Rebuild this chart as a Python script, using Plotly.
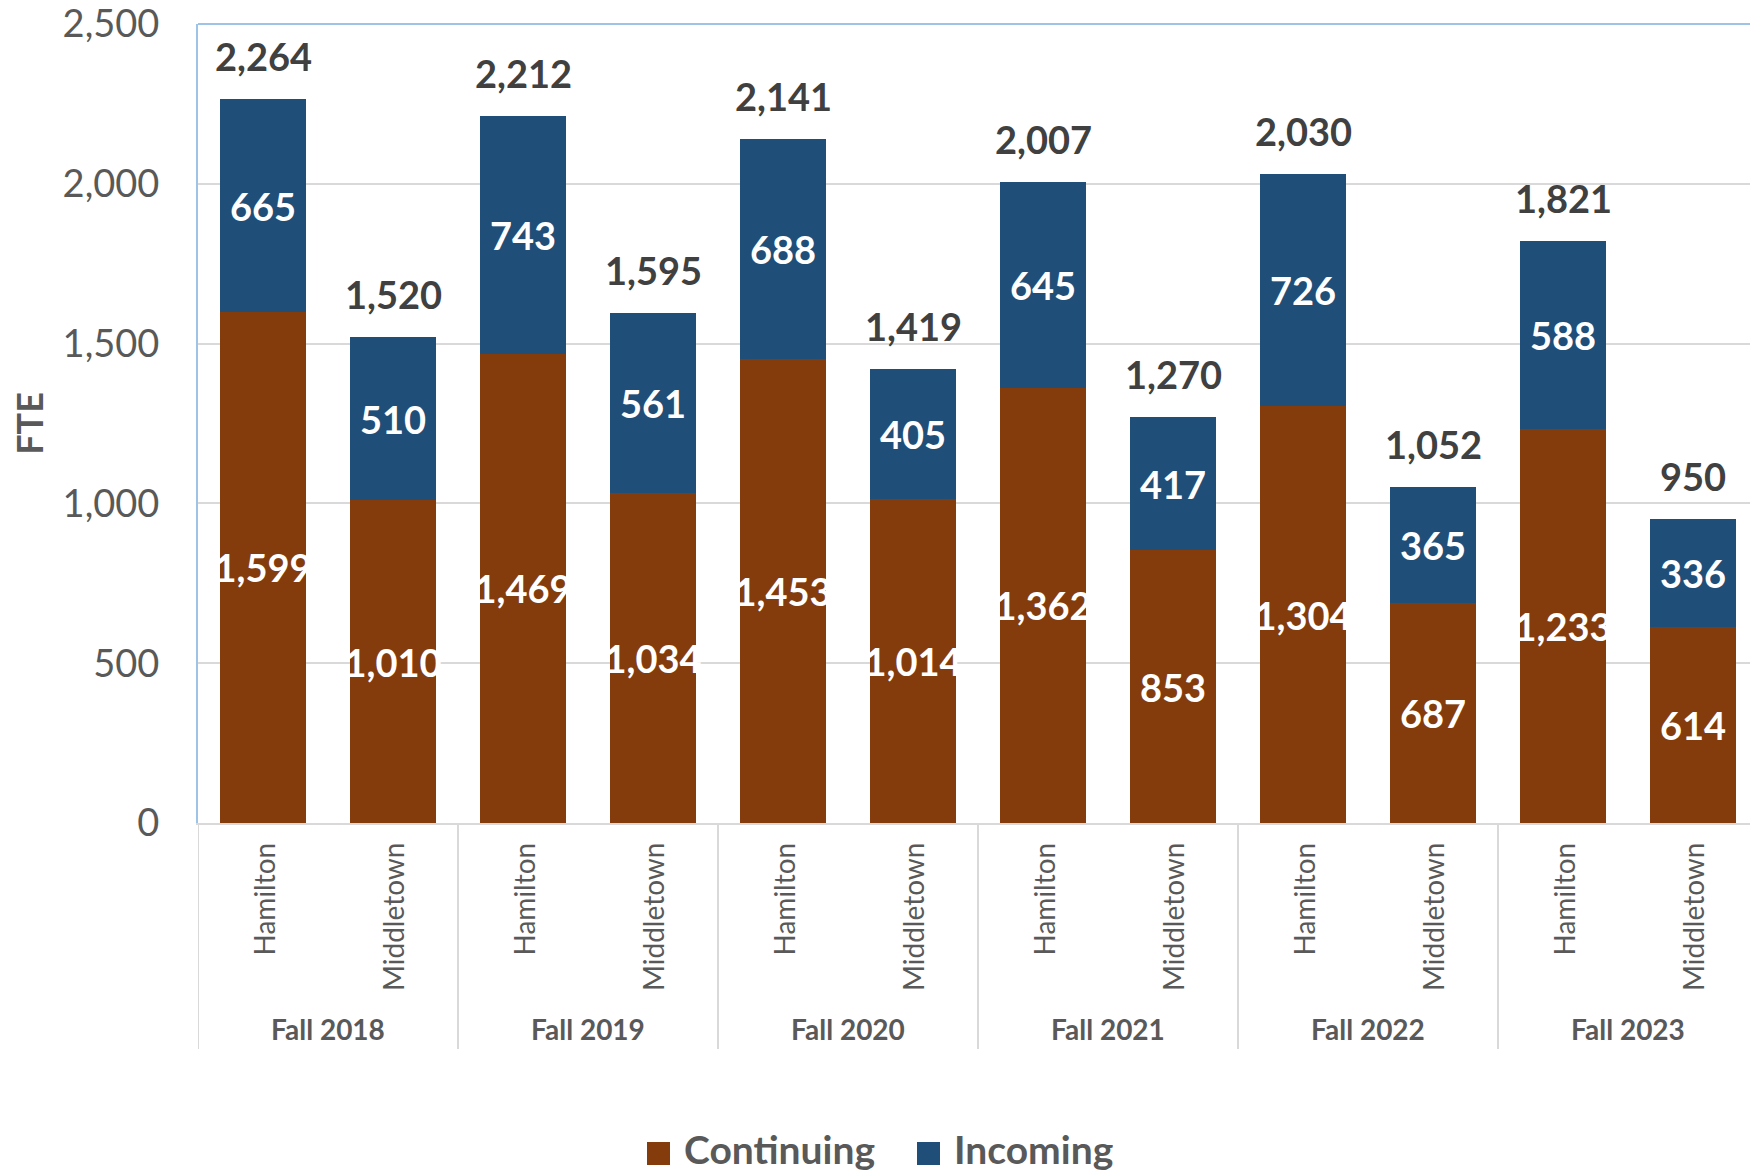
import plotly.graph_objects as go

# ---- data -------------------------------------------------------------
terms = ["Fall 2018", "Fall 2019", "Fall 2020", "Fall 2021", "Fall 2022", "Fall 2023"]
campuses = ["Hamilton", "Middletown"]

continuing = [1599, 1010, 1469, 1034, 1453, 1014, 1362, 853, 1304, 687, 1233, 614]
incoming = [665, 510, 743, 561, 688, 405, 645, 417, 726, 365, 588, 336]
totals = [2264, 1520, 2212, 1595, 2141, 1419, 2007, 1270, 2030, 1052, 1821, 950]

y_ticks = [0, 500, 1000, 1500, 2000, 2500]

# ---- styling ----------------------------------------------------------
FONT = "Lato"
BROWN = "#843C0C"
BLUE = "#1F4E79"
GRID = "#D9D9D9"
FRAME = "#9DC3E6"
TEXT = "#595959"
TOTAL_TEXT = "#404040"

W, H = 1750, 1174
ML, MT, MB = 198, 24, 351
PLOT_W = W - ML
PLOT_H = H - MT - MB

n = len(continuing)
xpos = list(range(n))


def px_to_paper_x(px):
    return (px - ML) / PLOT_W


def px_to_paper_y(py):
    return (H - MB - py) / PLOT_H


fig = go.Figure()

for name, vals, color in [("Continuing", continuing, BROWN), ("Incoming", incoming, BLUE)]:
    fig.add_trace(go.Bar(
        name=name, x=xpos, y=vals,
        marker=dict(color=color, line=dict(width=0)),
        texttemplate="%{y:,}", textposition="inside", insidetextanchor="middle",
        textangle=0, constraintext="none",
        textfont=dict(family=FONT, size=38, color="white", weight="bold"),
        showlegend=False, hoverinfo="skip",
    ))

annotations = []
shapes = []

# stack totals above each bar
for i, t in enumerate(totals):
    annotations.append(dict(
        x=i, y=t, xref="x", yref="y", text=f"{t:,}", showarrow=False,
        yanchor="middle", yshift=43,
        font=dict(family=FONT, size=38, color=TOTAL_TEXT, weight="bold"),
    ))

# campus labels (rotated) and term labels
for i in range(n):
    annotations.append(dict(
        x=i, y=0, xref="x", yref="paper", text=campuses[i % 2], showarrow=False,
        textangle=-90, yanchor="top", xanchor="center", yshift=-18,
        font=dict(family=FONT, size=28, color=TEXT),
    ))
for g, term in enumerate(terms):
    annotations.append(dict(
        x=2 * g + 0.5, y=0, xref="x", yref="paper", text=term, showarrow=False,
        yanchor="middle", xanchor="center", yshift=-206,
        font=dict(family=FONT, size=28, color=TEXT, weight="bold"),
    ))

# group dividers below the category axis
for g in range(len(terms)):
    shapes.append(dict(
        type="line", xref="x", yref="paper",
        x0=2 * g - 0.5, x1=2 * g - 0.5, y0=0, y1=px_to_paper_y(1049),
        line=dict(color=GRID, width=2),
    ))

# plot-area top border
shapes.append(dict(
    type="line", xref="paper", yref="paper", x0=0, x1=1, y0=1, y1=1,
    line=dict(color=FRAME, width=2),
))

# legend
legend_items = [("Continuing", BROWN, 647, 682), ("Incoming", BLUE, 917, 952)]
for label, color, sq_x, txt_x in legend_items:
    shapes.append(dict(
        type="rect", xref="paper", yref="paper",
        x0=px_to_paper_x(sq_x), x1=px_to_paper_x(sq_x + 23),
        y0=px_to_paper_y(1142), y1=px_to_paper_y(1165),
        fillcolor=color, line=dict(width=0),
    ))
    annotations.append(dict(
        x=px_to_paper_x(txt_x), y=px_to_paper_y(1149), xref="paper", yref="paper",
        text=label, showarrow=False, xanchor="left", yanchor="middle",
        font=dict(family=FONT, size=39, color=TEXT, weight="bold"),
    ))

fig.update_layout(
    width=W, height=H,
    margin=dict(l=ML, r=0, t=MT, b=MB),
    barmode="stack", bargap=0.34,
    paper_bgcolor="white", plot_bgcolor="white",
    font=dict(family=FONT, color=TEXT),
    annotations=annotations, shapes=shapes,
    showlegend=False,
)

fig.update_xaxes(
    range=[-0.5, -0.5 + PLOT_W / 130.0],
    showticklabels=False, ticks="", showgrid=False, zeroline=False,
    showline=True, linecolor=GRID, linewidth=2,
)

fig.update_yaxes(
    range=[0, 2500], tickvals=y_ticks, tickformat=",",
    showgrid=True, gridcolor=GRID, gridwidth=2, zeroline=False,
    showline=True, linecolor=FRAME, linewidth=2,
    ticks="", ticklabelstandoff=29, ticklabeloverflow="allow",
    tickfont=dict(family=FONT, size=38, color=TEXT),
    title=dict(text="FTE", standoff=8,
               font=dict(family=FONT, size=36, color=TEXT, weight="bold")),
)

fig.write_html("out.html")
